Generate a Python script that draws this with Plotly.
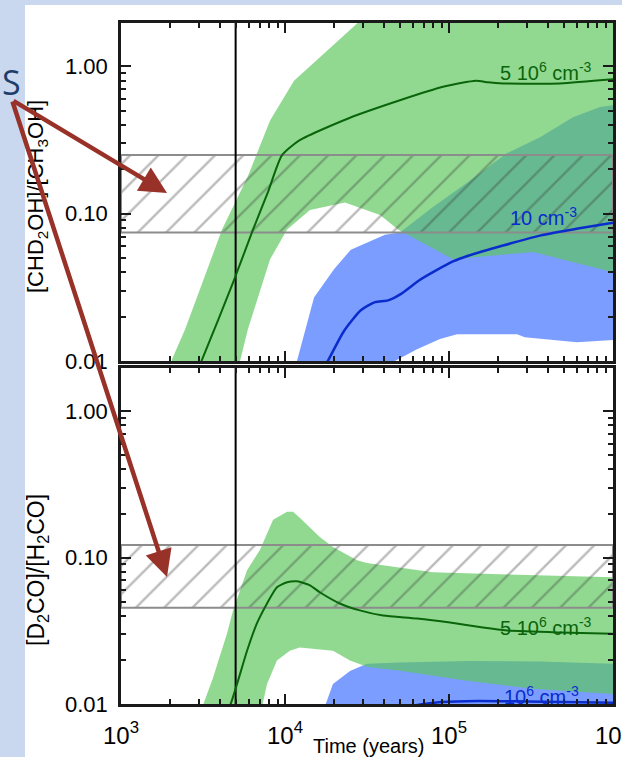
import numpy as np
import plotly.graph_objects as go

# ---------------- upper panel : [CHD2OH]/[CH3OH] ----------------
# 5e6 cm^-3 model envelope
up_green_hi_t = [1800, 2050, 2460, 4130, 5940, 8110, 11350, 21300, 27500, 35000, 1e6]
up_green_hi_v = [0.006, 0.0103, 0.0164, 0.078, 0.18, 0.43, 0.80, 1.50, 1.96, 3.0, 3.0]
up_green_lo_t = [1800, 5000, 5320, 5940, 8110, 10300, 14200, 23200, 38000, 48900, 106000, 325000, 1e6]
up_green_lo_v = [0.006, 0.008, 0.010, 0.0164, 0.049, 0.078, 0.106, 0.119, 0.098, 0.078, 0.049, 0.055, 0.040]
# 10 cm^-3 model envelope
up_blue_hi_t = [11000, 11830, 15030, 19900, 25200, 32100, 40700, 50200, 79800, 128800, 226000, 359000, 570000, 834000, 1e6]
up_blue_hi_v = [0.006, 0.010, 0.027, 0.042, 0.057, 0.064, 0.072, 0.0745, 0.111, 0.162, 0.258, 0.331, 0.452, 0.53, 0.545]
up_blue_lo_t = [11000, 40000, 46800, 63800, 88100, 112000, 260000, 290000, 603000, 1e6]
up_blue_lo_v = [0.006, 0.008, 0.010, 0.012, 0.0141, 0.0152, 0.0152, 0.0145, 0.0134, 0.0139]
# median model curves
up_green_t = [3000, 3120, 4820, 6380, 7870, 9590, 12300, 24500, 50200, 93300, 146000, 173000, 214000, 475000, 1e6]
up_green_v = [0.0092, 0.0102, 0.034, 0.078, 0.14, 0.25, 0.316, 0.445, 0.589, 0.73, 0.80, 0.78, 0.767, 0.767, 0.817]
up_blue_t = [17500, 18500, 22900, 29000, 35400, 42500, 51600, 65600, 83400, 105700, 132400, 213300, 358900, 638000, 1e6]
up_blue_v = [0.0092, 0.0103, 0.016, 0.0221, 0.0251, 0.0258, 0.0288, 0.0352, 0.0412, 0.0474, 0.052, 0.0608, 0.071, 0.080, 0.087]
# observed range
up_obs = [0.0745, 0.25]

# ---------------- lower panel : [D2CO]/[H2CO] ----------------
lo_green_hi_t = [2900, 3160, 3640, 4430, 4820, 5870, 7040, 8460, 10300, 11200, 12300, 16300, 19600, 27500, 31600, 79800, 204600, 325000, 1e6]
lo_green_hi_v = [0.006, 0.0098, 0.0151, 0.0303, 0.0436, 0.082, 0.113, 0.181, 0.206, 0.206, 0.187, 0.138, 0.118, 0.096, 0.092, 0.0795, 0.077, 0.0757, 0.0734]
lo_green_lo_t = [2900, 7000, 7350, 7770, 8930, 10700, 12300, 19600, 24900, 31600, 50200, 128800, 325000, 1e6]
lo_green_lo_v = [0.006, 0.008, 0.0098, 0.0137, 0.0198, 0.0231, 0.0243, 0.0231, 0.0198, 0.018, 0.0169, 0.0144, 0.0127, 0.0117]
lo_blue_hi_t = [17000, 17500, 19600, 24900, 31600, 50200, 128800, 359000, 1e6]
lo_blue_hi_v = [0.006, 0.0096, 0.0137, 0.0168, 0.0188, 0.0192, 0.0197, 0.0195, 0.0188]
lo_blue_lo_t = [17000, 1e6]
lo_blue_lo_v = [0.005, 0.005]
lo_green_t = [4300, 4630, 5100, 5870, 6740, 7770, 8930, 10300, 11830, 14200, 16300, 21600, 28600, 39600, 63800, 101400, 161000, 226000, 475000, 1e6]
lo_green_v = [0.0085, 0.0098, 0.0137, 0.0231, 0.0355, 0.0486, 0.0627, 0.0679, 0.0689, 0.0647, 0.058, 0.0486, 0.0436, 0.0402, 0.0384, 0.036, 0.0333, 0.0318, 0.0308, 0.0302]
lo_blue_t = [40000, 60000, 90000, 150000, 300000, 1e6]
lo_blue_v = [0.0085, 0.0097, 0.0103, 0.0105, 0.0104, 0.0102]
lo_obs = [0.0455, 0.122]

t_vline = 5000
x_ticks = [1e3, 1e4, 1e5, 1e6]
x_tick_text = ["10<sup>3</sup>", "10<sup>4</sup>", "10<sup>5</sup>", "10<sup>6</sup>"]
y_ticks = [0.01, 0.1, 1.0]
y_tick_text = ["0.01", "0.10", "1.00"]

GREEN_FILL = "rgba(93,199,93,0.68)"
BLUE_FILL = "rgb(123,157,255)"
GREEN_LINE = "#0a650a"
BLUE_LINE = "#0a2ccc"
FONT = "Liberation Sans, Arial, sans-serif"

fig = go.Figure()


def band(t_hi, v_hi, t_lo, v_lo, color, xa, ya):
    return go.Scatter(x=list(t_hi) + list(t_lo)[::-1], y=list(v_hi) + list(v_lo)[::-1],
                      fill="toself", fillcolor=color, mode="lines", line=dict(width=0),
                      xaxis=xa, yaxis=ya, hoverinfo="skip", showlegend=False)


def hatch(lo, hi, xa, ya):
    return go.Scatter(x=[1e3, 1e6, 1e6, 1e3, 1e3], y=[lo, lo, hi, hi, lo],
                      fill="toself", fillcolor="rgba(0,0,0,0)",
                      fillpattern=dict(shape="/", fgcolor="rgba(60,60,60,0.7)",
                                       bgcolor="rgba(0,0,0,0)", size=20, solidity=0.12),
                      mode="lines", line=dict(color="#8c8c8c", width=2),
                      xaxis=xa, yaxis=ya, hoverinfo="skip", showlegend=False)


def curve(t, v, color, xa, ya, w=2):
    return go.Scatter(x=t, y=v, mode="lines", line=dict(color=color, width=w, shape="spline", smoothing=0.6),
                      xaxis=xa, yaxis=ya, hoverinfo="skip", showlegend=False)


def vline(xa, ya):
    return go.Scatter(x=[t_vline, t_vline], y=[1e-3, 10], mode="lines",
                      line=dict(color="black", width=2), xaxis=xa, yaxis=ya,
                      hoverinfo="skip", showlegend=False)


# upper panel
fig.add_trace(band(up_blue_hi_t, up_blue_hi_v, up_blue_lo_t, up_blue_lo_v, BLUE_FILL, "x", "y"))
fig.add_trace(band(up_green_hi_t, up_green_hi_v, up_green_lo_t, up_green_lo_v, GREEN_FILL, "x", "y"))
fig.add_trace(hatch(up_obs[0], up_obs[1], "x", "y"))
fig.add_trace(vline("x", "y"))
fig.add_trace(curve(up_green_t, up_green_v, GREEN_LINE, "x", "y"))
fig.add_trace(curve(up_blue_t, up_blue_v, BLUE_LINE, "x", "y", 2.5))

# lower panel
fig.add_trace(band(lo_blue_hi_t, lo_blue_hi_v, lo_blue_lo_t, lo_blue_lo_v, BLUE_FILL, "x2", "y2"))
fig.add_trace(band(lo_green_hi_t, lo_green_hi_v, lo_green_lo_t, lo_green_lo_v, GREEN_FILL, "x2", "y2"))
fig.add_trace(hatch(lo_obs[0], lo_obs[1], "x2", "y2"))
fig.add_trace(vline("x2", "y2"))
fig.add_trace(curve(lo_green_t, lo_green_v, GREEN_LINE, "x2", "y2"))
fig.add_trace(curve(lo_blue_t, lo_blue_v, BLUE_LINE, "x2", "y2", 2.5))

minor_x = [m * 10 ** e for e in (3, 4, 5) for m in range(2, 10)]
minor_y = [m * 10 ** e for e in (-2, -1) for m in range(2, 10)] + [2]

axis_common = dict(type="log", showline=True, linewidth=2.5, linecolor="#1a1a1a", mirror="ticks",
                   ticks="inside", ticklen=10, tickwidth=2, tickcolor="#1a1a1a",
                   showgrid=False, zeroline=False, ticklabeloverflow="allow", automargin=False,
                   tickfont=dict(family=FONT, size=22, color="black"))

xaxis_top = dict(axis_common, range=[3, 6], tickvals=x_ticks, showticklabels=False,
                 minor=dict(tickvals=minor_x, ticks="inside", ticklen=5, tickcolor="#1a1a1a"),
                 anchor="y", domain=[0, 1])
xaxis_bot = dict(axis_common, range=[3, 6], tickvals=x_ticks, ticktext=x_tick_text,
                 ticklabelstandoff=8, tickfont=dict(family=FONT, size=24, color="black"),
                 minor=dict(tickvals=minor_x, ticks="inside", ticklen=5, tickcolor="#1a1a1a"),
                 anchor="y2", domain=[0, 1])
yaxis_common = dict(axis_common, range=[-2, 0.295], tickvals=y_ticks, ticktext=y_tick_text,
                    ticklabelstandoff=6,
                    minor=dict(tickvals=minor_y, ticks="inside", ticklen=5, tickcolor="#1a1a1a"))

# plot area in pixels: x 121..613, y 23..704
L, R, T, B = 121, 613, 23, 704


def px(x):
    return (x - L) / (R - L)


def py(y):
    return (B - y) / (B - T)


fig.update_layout(
    width=622, height=757, autosize=False,
    margin=dict(l=L, r=622 - R, t=T, b=757 - B, pad=0, autoexpand=False),
    paper_bgcolor="white", plot_bgcolor="white",
    xaxis=xaxis_top, xaxis2=xaxis_bot,
    yaxis=dict(yaxis_common, domain=[py(361), 1], anchor="x"),
    yaxis2=dict(yaxis_common, domain=[0, py(368)], anchor="x2"),
    font=dict(family=FONT, color="black"),
    showlegend=False,
)

# slide border strips
fig.add_shape(type="rect", xref="paper", yref="paper", x0=px(-5), x1=px(25), y0=py(760), y1=py(-5),
              fillcolor="#c9d8ee", line=dict(width=0), layer="below")
fig.add_shape(type="rect", xref="paper", yref="paper", x0=px(-5), x1=px(630), y0=py(5), y1=py(-5),
              fillcolor="#c9d8ee", line=dict(width=0), layer="below")

lab = dict(showarrow=False, xanchor="center", yanchor="middle")
fig.add_annotation(x=np.log10(3.9e5), y=-0.034, xref="x", yref="y",
                   text="5 10<sup>6</sup> cm<sup>-3</sup>", font=dict(size=20, color=GREEN_LINE), **lab)
fig.add_annotation(x=np.log10(3.75e5), y=-1.016, xref="x", yref="y",
                   text="10 cm<sup>-3</sup>", font=dict(size=20, color=BLUE_LINE), **lab)
fig.add_annotation(x=np.log10(3.9e5), y=-1.469, xref="x2", yref="y2",
                   text="5 10<sup>6</sup> cm<sup>-3</sup>", font=dict(size=20, color=GREEN_LINE), **lab)
fig.add_annotation(x=np.log10(3.65e5), y=-1.94, xref="x2", yref="y2",
                   text="10<sup>6</sup> cm<sup>-3</sup>", font=dict(size=20, color=BLUE_LINE), **lab)

# axis titles
fig.add_annotation(x=px(37), y=py(197), xref="paper", yref="paper", textangle=-90,
                   text="[CHD<sub>2</sub>OH]/[CH<sub>3</sub>OH]", font=dict(size=22), **lab)
fig.add_annotation(x=px(37), y=py(570), xref="paper", yref="paper", textangle=-90,
                   text="[D<sub>2</sub>CO]/[H<sub>2</sub>CO]", font=dict(size=23), **lab)
fig.add_annotation(x=px(368), y=py(746), xref="paper", yref="paper",
                   text="Time (years)", font=dict(size=20), **lab)

# pointer arrows
fig.add_annotation(x=px(11), y=py(82), xref="paper", yref="paper", text="S",
                   font=dict(size=34, color="#1f3d6b", family="Open Sans, Liberation Sans, sans-serif"), **lab)
for hx, hy in [(167, 193), (167, 577)]:
    fig.add_annotation(x=px(hx), y=py(hy), xref="paper", yref="paper", text="",
                       showarrow=True, arrowhead=2, arrowsize=1.2, arrowwidth=4.5,
                       arrowcolor="#983228", ax=12 - hx, ay=100 - hy, standoff=0)

fig.write_html("out.html")
